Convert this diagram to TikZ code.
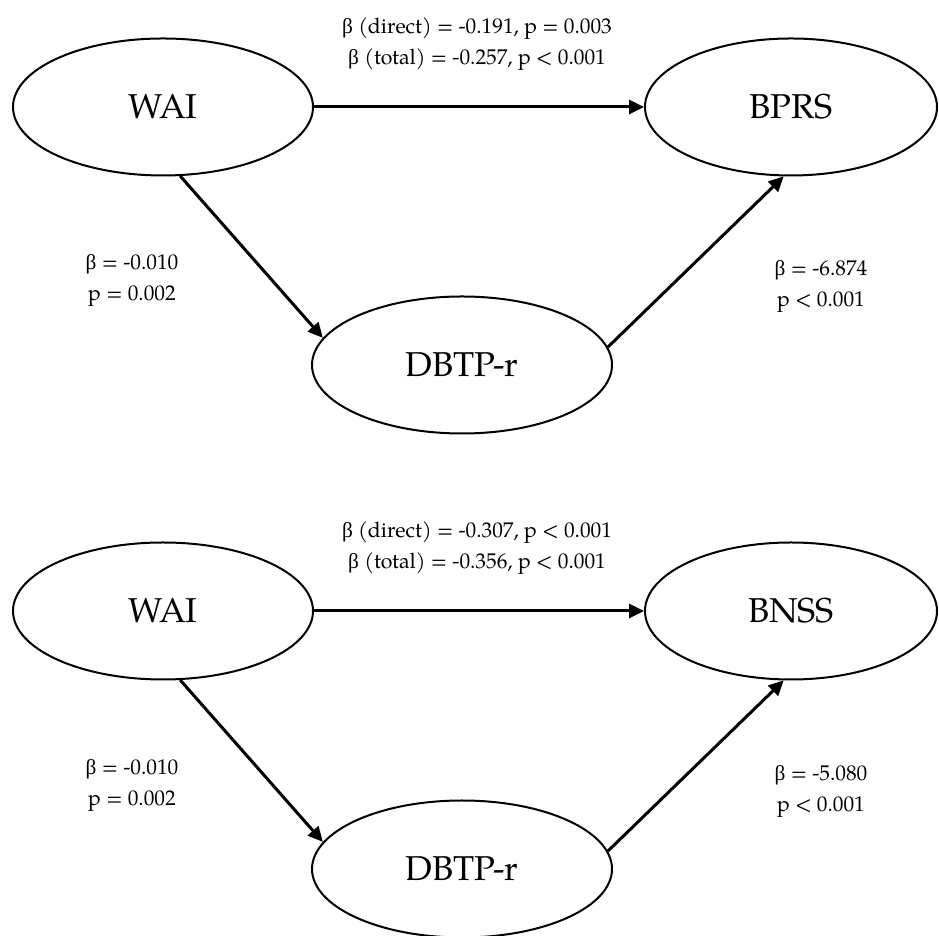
\documentclass[tikz,border=0pt]{standalone}
\usepackage{fontspec}
\setmainfont{TeX Gyre Pagella}
\newfontfamily\grk{Liberation Serif}
\newcommand{\bt}{{\grk β}}
\usetikzlibrary{shapes.geometric,arrows.meta}
\tikzset{
  var/.style={ellipse, draw, line width=2pt, inner sep=0pt,
    minimum width=300pt, minimum height=137pt,
    font=\fontsize{34.5}{38}\selectfont},
  path/.style={line width=3pt, -{Triangle[length=15pt,width=14pt]}},
  coef/.style={align=center, inner sep=0pt,
    font=\fontsize{21.3}{31}\selectfont}
}
\begin{document}
\begin{tikzpicture}[x=1pt,y=1pt]
\useasboundingbox (0,0) rectangle (939,936);

% Model 1: WAI -> DBTP-r -> BPRS
\node[var] (wai1) at (163,829) {WAI};
\node[var, minimum width=292pt] (bprs) at (791,829) {BPRS};
\node[var] (dbtp1) at (462,571) {DBTP-r};
\draw[path] (wai1) -- (bprs);
\draw[path] (wai1.-76) -- (dbtp1.169);
\draw[path] (dbtp1.7) -- (bprs.264);
\node[coef] (c1) at (477,892) {\bt{} (direct) = -0.191, p = 0.003\\\bt{} (total) = -0.257, p < 0.001};
\node[coef] (a1) at (132,655) {\bt{} = -0.010\\p = 0.002};
\node[coef] (b1) at (821,649) {\bt{} = -6.874\\p < 0.001};

% Model 2: WAI -> DBTP-r -> BNSS
\node[var] (wai2) at (163,325) {WAI};
\node[var, minimum width=292pt] (bnss) at (791,325) {BNSS};
\node[var] (dbtp2) at (462,67) {DBTP-r};
\draw[path] (wai2) -- (bnss);
\draw[path] (wai2.-76) -- (dbtp2.169);
\draw[path] (dbtp2.7) -- (bnss.264);
\node[coef] (c2) at (477,388) {\bt{} (direct) = -0.307, p < 0.001\\\bt{} (total) = -0.356, p < 0.001};
\node[coef] (a2) at (132,151) {\bt{} = -0.010\\p = 0.002};
\node[coef] (b2) at (821,145) {\bt{} = -5.080\\p < 0.001};
\end{tikzpicture}
\end{document}
